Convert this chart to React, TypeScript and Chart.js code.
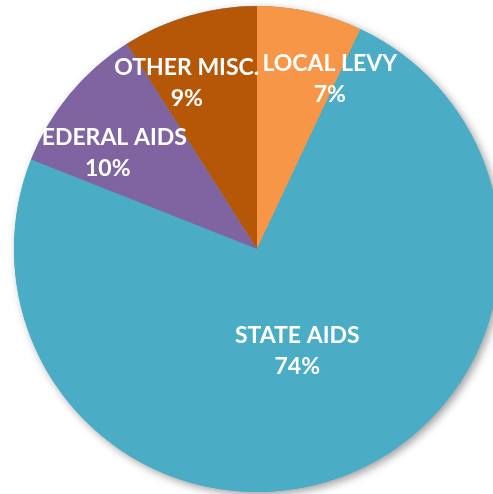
import React, { useEffect, useRef } from "react";
import { Chart, registerables } from "chart.js";

Chart.register(...registerables);

const categories = ["LOCAL LEVY", "STATE AIDS", "FEDERAL AIDS", "OTHER MISC."];
const shares = [7, 74, 10, 9];
const sliceColors = ["#F79646", "#4BACC6", "#8064A2", "#B65708"];

// label placement: [angle shift in degrees, radius fraction]
const labelPlacement: [number, number][] = [
  [10.6, 0.76],
  [0, 0.45],
  [-6.9, 0.73],
  [-6.8, 0.74],
];

const shadowPlugin = {
  id: "pieShadow",
  beforeDatasetsDraw(chart: any) {
    const meta = chart.getDatasetMeta(0);
    const arc = meta.data[0];
    if (!arc) return;
    const { x, y, outerRadius } = arc.getProps(["x", "y", "outerRadius"], true);
    const ctx = chart.ctx;
    ctx.save();
    ctx.shadowColor = "rgba(0,0,0,0.38)";
    ctx.shadowBlur = 8;
    ctx.shadowOffsetX = 3;
    ctx.shadowOffsetY = 3;
    ctx.beginPath();
    ctx.arc(x, y, outerRadius, 0, Math.PI * 2);
    ctx.fillStyle = "#4BACC6";
    ctx.fill();
    ctx.restore();
  },
};

const labelPlugin = {
  id: "sliceLabels",
  afterDatasetsDraw(chart: any) {
    const ctx = chart.ctx;
    const meta = chart.getDatasetMeta(0);
    const data = chart.data.datasets[0].data as number[];
    const total = data.reduce((a, b) => a + b, 0);
    ctx.save();
    ctx.fillStyle = "#FFFFFF";
    ctx.textAlign = "center";
    ctx.textBaseline = "middle";
    ctx.font = "bold 23px Lato, 'Open Sans', sans-serif";
    meta.data.forEach((arc: any, i: number) => {
      const p = arc.getProps(["x", "y", "startAngle", "endAngle", "outerRadius"], true);
      const [shiftDeg, frac] = labelPlacement[i];
      const mid = (p.startAngle + p.endAngle) / 2 + (shiftDeg * Math.PI) / 180;
      const lx = p.x + Math.cos(mid) * p.outerRadius * frac;
      const ly = p.y + Math.sin(mid) * p.outerRadius * frac;
      const pct = Math.round((data[i] / total) * 100) + "%";
      ctx.fillText(chart.data.labels[i], lx, ly - 15.5);
      ctx.fillText(pct, lx, ly + 15.5);
    });
    ctx.restore();
  },
};

export default function App() {
  const ref = useRef<HTMLCanvasElement>(null);
  useEffect(() => {
    if (!ref.current) return;
    const chart = new Chart(ref.current, {
      type: "pie",
      data: {
        labels: categories,
        datasets: [
          {
            data: shares,
            backgroundColor: sliceColors,
            borderWidth: 0,
            hoverOffset: 0,
            offset: 0,
          },
        ],
      },
      options: {
        responsive: false,
        animation: false,
        rotation: 0,
        layout: { padding: { left: 14, right: 14, top: 6, bottom: 4 } },
        plugins: {
          legend: { display: false },
          tooltip: { enabled: false },
        },
      },
      plugins: [shadowPlugin, labelPlugin],
    });
    return () => chart.destroy();
  }, []);
  return (
    <div
      style={{
        position: "fixed",
        left: 0,
        top: 0,
        width: 493,
        height: 494,
        overflow: "hidden",
        background: "#FFFFFF",
      }}
    >
      <canvas ref={ref} width={514} height={496} style={{ display: "block" }} />
    </div>
  );
}
